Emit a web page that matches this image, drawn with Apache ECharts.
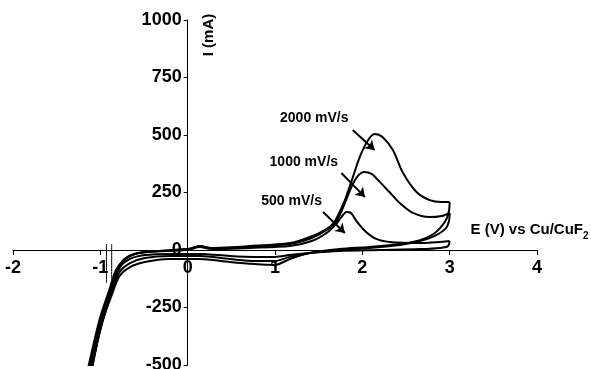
<!DOCTYPE html>
<html><head><meta charset="utf-8">
<script src="https://cdn.jsdelivr.net/npm/echarts@6/dist/echarts.min.js"></script>
<style>html,body{margin:0;padding:0;background:#fff}#c{width:591px;height:369px}</style>
</head><body><div id="c"></div>
<script>
// ---- data (E in V vs Cu/CuF2, I in mA) ----
const xTicks = [-2, -1, 0, 1, 2, 3, 4];
const yTicks = [-500, -250, 0, 250, 500, 750, 1000];
const scanLabels = ['2000 mV/s', '1000 mV/s', '500 mV/s'];

const E2000_fwd = [-1.17,-1.01,-0.89,-0.82,-0.73,-0.61,-0.32,0,0.14,0.25,0.71,1.17,1.40,1.57,1.68,1.80,1.88,1.97,2.06,2.14,2.23,2.35,2.46,2.62,2.77,2.91,3.0];
const I2000_fwd = [-565,-304,-165,-87,-43,-17,-4,4,17,9,17,30,57,87,122,217,304,404,474,504,491,435,339,252,217,209,209];
const E2000_rev = [3.0,2.99,2.95,2.83,2.66,2.43,2.08,1.74,1.40,1.17,1.0,0.77,0.48,0.14,-0.21,-0.49,-0.66,-0.78,-0.87,-0.99,-1.12];
const I2000_rev = [209,165,125,74,43,26,13,4,-13,-39,-65,-61,-52,-39,-39,-52,-74,-113,-196,-326,-565];

const E1000_fwd = [-1.16,-1.0,-0.88,-0.81,-0.71,-0.55,0,0.14,0.27,0.71,1.17,1.42,1.59,1.71,1.80,1.88,1.95,2.02,2.11,2.20,2.31,2.43,2.58,2.77,2.91,3.0];
const I1000_fwd = [-565,-304,-165,-87,-39,-13,4,17,9,13,26,52,87,130,204,278,322,339,330,296,252,204,161,143,148,161];
const E1000_rev = [3.0,2.99,2.95,2.83,2.66,2.43,2.08,1.74,1.40,1.17,1.0,0.77,0.48,0.14,-0.21,-0.49,-0.66,-0.78,-0.87,-1.0,-1.13];
const I1000_rev = [161,122,92,61,39,22,9,0,-13,-30,-48,-48,-39,-26,-26,-35,-57,-96,-183,-348,-565];

const E500_fwd = [-1.15,-0.99,-0.87,-0.80,-0.69,-0.49,0,0.14,0.27,0.71,1.17,1.42,1.59,1.70,1.76,1.82,1.87,1.94,2.03,2.16,2.31,2.66,3.0];
const I500_fwd = [-565,-296,-157,-78,-30,-9,0,13,4,9,17,39,74,113,143,165,161,122,83,48,35,30,39];
const E500_rev = [3.0,2.98,2.89,2.66,2.20,1.74,1.40,1.17,1.0,0.77,0.48,0.14,-0.21,-0.49,-0.66,-0.78,-0.87,-1.0,-1.12];
const I500_rev = [39,17,9,4,0,-4,-13,-22,-30,-30,-26,-17,-17,-22,-39,-78,-174,-339,-565];

// short transients near -1 V
const Etr1 = [-0.93,-0.93]; const Itr1 = [26,-143];
const Etr2 = [-0.87,-0.87]; const Itr2 = [26,-130];

// annotation anchors (data coords): label centre, arrow start, arrow end
const labelE = [1.45, 1.33, 1.19];
const labelI = [574, 383, 213];
const arrowE0 = [1.89, 1.76, 1.55];
const arrowI0 = [522, 335, 165];
const arrowE1 = [2.14, 2.03, 1.80];
const arrowI1 = [435, 230, 74];

// ---- chart ----
const FONT = '"Liberation Sans", Arial, sans-serif';
const zip = (E, I) => E.map((e, i) => [e, I[i]]);
const mkLine = (E, I, w) => ({
  type: 'line', data: zip(E, I), smooth: 0.3, symbol: 'none', showSymbol: false,
  lineStyle: { color: '#000', width: w }, clip: true, silent: true, z: 3
});

const W = 591, H = 369;
const G = { left: 13, right: 54, top: 20, bottom: 4 };
const xMin = xTicks[0], xMax = xTicks[xTicks.length - 1];
const yMin = yTicks[0], yMax = yTicks[yTicks.length - 1];
const gw = W - G.left - G.right, gh = H - G.top - G.bottom;
// place axes through the origin
const yAxisOffset = -((0 - xMin) / (xMax - xMin) * gw);
const xAxisOffset = -((0 - yMin) / (yMax - yMin) * gh);

const chart = echarts.init(document.getElementById('c'));
const series = [
  mkLine(E2000_fwd, I2000_fwd, 2), mkLine(E2000_rev, I2000_rev, 2),
  mkLine(E1000_fwd, I1000_fwd, 2), mkLine(E1000_rev, I1000_rev, 2),
  mkLine(E500_fwd, I500_fwd, 2), mkLine(E500_rev, I500_rev, 2),
  mkLine(Etr1, Itr1, 1), mkLine(Etr2, Itr2, 1)
];
series[0].markLine = {
  silent: true, symbol: ['none', 'arrow'], symbolSize: 9,
  lineStyle: { color: '#000', width: 2, type: 'solid' }, label: { show: false },
  data: arrowE0.map((e, i) => [{ coord: [e, arrowI0[i]] }, { coord: [arrowE1[i], arrowI1[i]] }])
};

chart.setOption({
  animation: false,
  backgroundColor: '#fff',
  grid: Object.assign({ containLabel: false, outerBoundsMode: 'none' }, G),
  xAxis: {
    type: 'value', min: xMin, max: xMax, interval: 1, position: 'bottom', offset: xAxisOffset,
    axisLine: { onZero: false, lineStyle: { color: '#000', width: 1 } },
    axisTick: { length: 5, lineStyle: { color: '#000' } },
    axisLabel: { color: '#000', fontSize: 18, fontWeight: 'bold', fontFamily: FONT, margin: 9,
      formatter: v => String(v) },
    splitLine: { show: false }
  },
  yAxis: {
    type: 'value', min: yMin, max: yMax, interval: 250, position: 'left', offset: yAxisOffset,
    axisLine: { show: true, onZero: false, lineStyle: { color: '#000', width: 1 } },
    axisTick: { show: true, length: 4, lineStyle: { color: '#000' } },
    axisLabel: { color: '#000', fontSize: 18, fontWeight: 'bold', fontFamily: FONT, margin: 6,
      formatter: v => String(v) },
    splitLine: { show: false }
  },
  series: series
});

const graphics = [];
scanLabels.forEach((t, i) => {
  const p = chart.convertToPixel({ gridIndex: 0 }, [labelE[i], labelI[i]]);
  graphics.push({ type: 'text', x: p[0], y: p[1], z: 10,
    style: { text: t, fill: '#000', font: 'bold 14px ' + FONT, textAlign: 'center', textVerticalAlign: 'middle' } });
});
graphics.push({ type: 'text', x: 583, y: 230, z: 10,
  style: { text: 'E (V) vs Cu/CuF', fill: '#000', font: 'bold 15px ' + FONT, textAlign: 'right', textVerticalAlign: 'middle' } });
graphics.push({ type: 'text', x: 583, y: 236, z: 10,
  style: { text: '2', fill: '#000', font: 'bold 10px ' + FONT, textAlign: 'left', textVerticalAlign: 'middle' } });
graphics.push({ type: 'text', x: 209, y: 35, rotation: Math.PI / 2, z: 10,
  style: { text: 'I (mA)', fill: '#000', font: 'bold 15px ' + FONT, textAlign: 'center', textVerticalAlign: 'middle' } });
chart.setOption({ graphic: graphics });
</script>
</body></html>
